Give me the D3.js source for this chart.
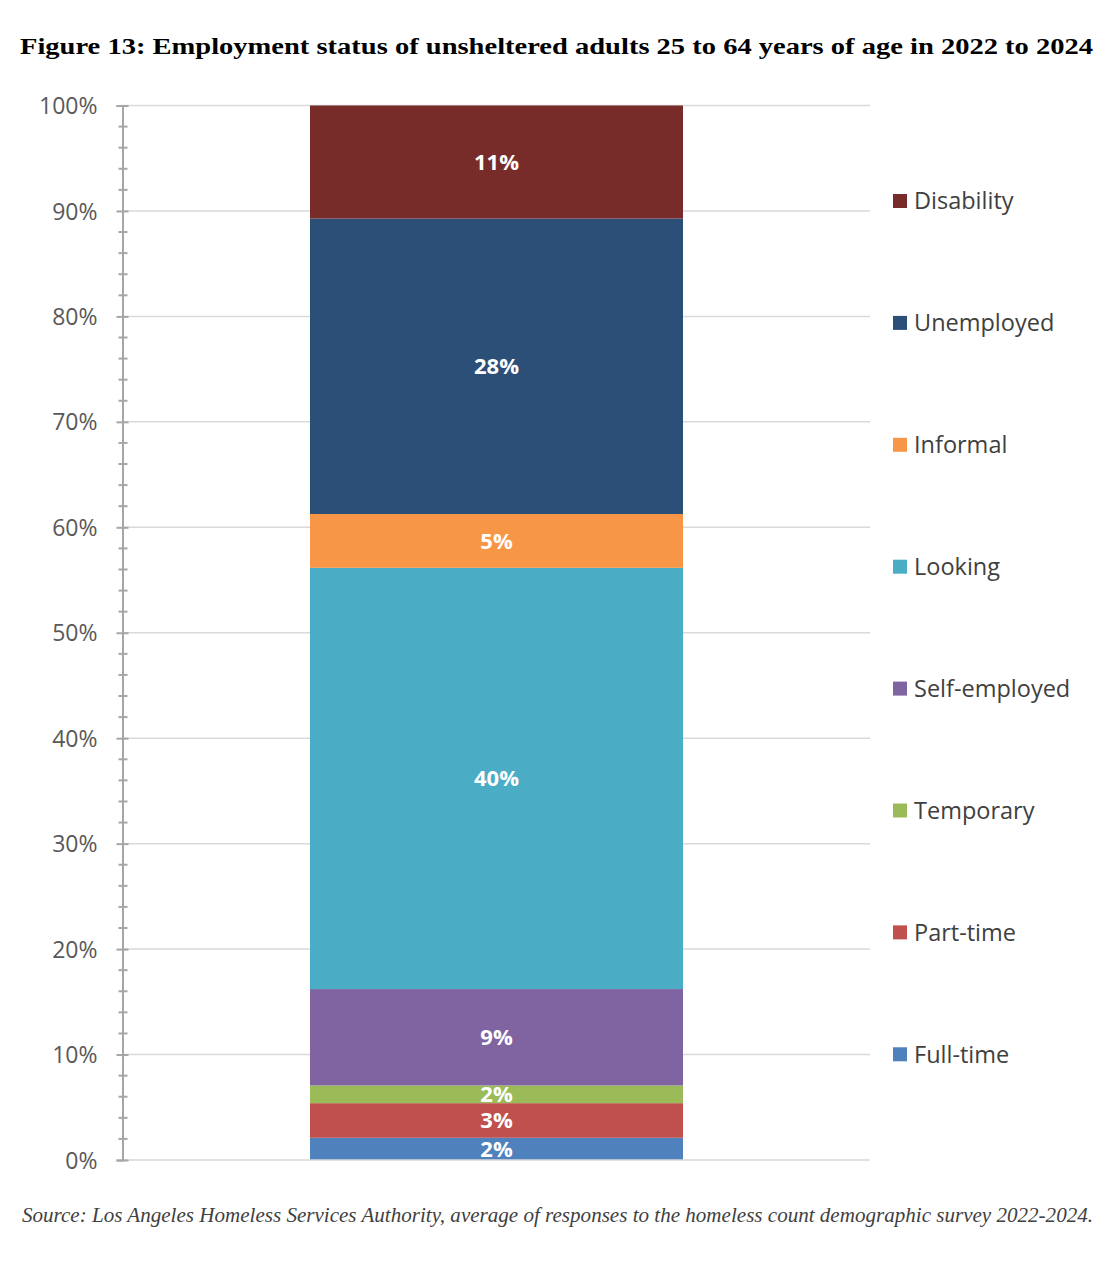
<!DOCTYPE html>
<html><head><meta charset="utf-8">
<script src="https://cdn.jsdelivr.net/npm/d3@7"></script>
<style>
body{margin:0;background:#fff;}
svg{display:block;}
</style></head>
<body>
<svg id="chart" width="1116" height="1264"></svg>
<script>
const categories = ["Full-time","Part-time","Temporary","Self-employed","Looking","Informal","Unemployed","Disability"];
const values = [2.11, 3.28, 1.68, 9.14, 39.95, 5.10, 28.02, 10.72];
const labels = ["2%","3%","2%","9%","40%","5%","28%","11%"];
const colors = ["#4f81bd","#c0504d","#9bbb59","#8064a2","#4bacc6","#f79646","#2c4f78","#772c2a"];
const tickValues = [0,10,20,30,40,50,60,70,80,90,100];
const titleText = "Figure 13: Employment status of unsheltered adults 25 to 64 years of age in 2022 to 2024";
const sourceText = "Source: Los Angeles Homeless Services Authority, average of responses to the homeless count demographic survey 2022-2024.";

const svg = d3.select("#chart");
const y = d3.scaleLinear().domain([0,100]).range([1160,105.5]);
const axisX = 122.5, plotRight = 870;

// title
svg.append("text").attr("x",20).attr("y",54)
  .attr("font-family","'Liberation Serif', serif").attr("font-weight","bold").attr("font-size",23)
  .attr("textLength",1073).attr("lengthAdjust","spacingAndGlyphs")
  .attr("fill","#000").text(titleText);

// gridlines
svg.append("g").selectAll("line").data(tickValues.slice(1)).join("line")
  .attr("x1",axisX).attr("x2",plotRight).attr("y1",d=>y(d)).attr("y2",d=>y(d))
  .attr("stroke","#d9d9d9").attr("stroke-width",1.5);

// stacked bar
const stackData = [Object.fromEntries(categories.map((c,i)=>[c,values[i]]))];
const series = d3.stack().keys(categories)(stackData);
const bx = 310, bw = 373;
const g = svg.append("g");
g.selectAll("rect").data(series).join("rect")
  .attr("x",bx).attr("width",bw)
  .attr("y",d=>y(d[0][1])).attr("height",d=>y(d[0][0])-y(d[0][1]))
  .attr("fill",(d,i)=>colors[i]);
g.selectAll("text").data(series).join("text")
  .attr("x",bx+bw/2).attr("y",d=>(y(d[0][0])+y(d[0][1]))/2 + 8)
  .attr("text-anchor","middle").attr("font-family","'Open Sans', sans-serif")
  .attr("font-weight","bold").attr("font-size",22).attr("fill","#fff")
  .text((d,i)=>labels[i]);

// bottom baseline
svg.append("line").attr("x1",axisX).attr("x2",plotRight).attr("y1",y(0)).attr("y2",y(0))
  .attr("stroke","#d9d9d9").attr("stroke-width",1.5);

// y axis
const yAxis = d3.axisLeft(y).tickValues(tickValues).tickFormat(d=>d+"%").tickSize(6).tickPadding(20);
const ag = svg.append("g").attr("transform",`translate(${axisX},0)`).call(yAxis);
ag.select(".domain").attr("stroke","#a6a6a6").attr("stroke-width",2);
ag.selectAll(".tick line").attr("stroke","#a6a6a6").attr("stroke-width",2).attr("x2",-6).attr("x1",6);
ag.selectAll(".tick text").attr("x",-25).attr("font-family","'Open Sans', sans-serif").attr("font-size",23).attr("fill","#595959").attr("dy","0.35em");
// minor ticks
const minor = d3.range(0,101,2).filter(v=>v%10!==0);
svg.append("g").selectAll("line").data(minor).join("line")
  .attr("x1",axisX-4).attr("x2",axisX+5).attr("y1",d=>y(d)).attr("y2",d=>y(d))
  .attr("stroke","#a6a6a6").attr("stroke-width",2);

// legend
const legendOrder = categories.slice().reverse();
const lg = svg.append("g").selectAll("g").data(legendOrder).join("g")
  .attr("transform",(d,i)=>`translate(893,${201 + i*121.9})`);
lg.append("rect").attr("x",0).attr("y",-7).attr("width",14).attr("height",14)
  .attr("fill",d=>colors[categories.indexOf(d)]);
lg.append("text").attr("x",21).attr("y",0).attr("dy","0.35em")
  .attr("font-family","'Open Sans', sans-serif").attr("font-size",23.5).attr("fill","#404040")
  .text(d=>d);

// source
svg.append("text").attr("x",22).attr("y",1222)
  .attr("font-family","'Liberation Serif', serif").attr("font-style","italic").attr("font-size",20)
  .attr("textLength",1071).attr("lengthAdjust","spacingAndGlyphs")
  .attr("fill","#404040").text(sourceText);
</script>
</body></html>
